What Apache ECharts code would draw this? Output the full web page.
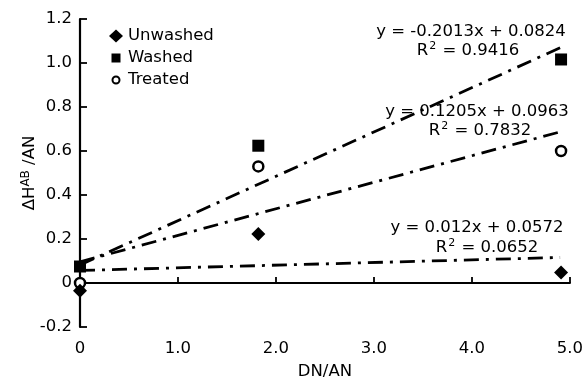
<!DOCTYPE html>
<html><head><meta charset="utf-8">
<script src="https://cdn.jsdelivr.net/npm/echarts@6/dist/echarts.min.js"></script>
<style>html,body{margin:0;padding:0;background:#fff}#c{width:586px;height:385px}</style>
</head><body><div id="c"></div>
<script>
const seriesNames = ['Unwashed', 'Washed', 'Treated'];
const xValues = [0, 1.82, 4.91];
const unwashed = [-0.035, 0.223, 0.048];
const washed = [0.075, 0.624, 1.016];
const treated = [0.0, 0.53, 0.60];
// trendline endpoints (match the printed equations)
const trendX = [0, 4.9];
const trendUnwashed = [0.057, 0.116];
const trendWashed = [0.082, 1.069];
const trendTreated = [0.096, 0.687];
const xTicks = [0, 1, 2, 3, 4, 5];
const yTicks = [-0.2, 0, 0.2, 0.4, 0.6, 0.8, 1.0, 1.2];
const equations = [
  ['y = -0.2013x + 0.0824', '0.9416'],
  ['y = 0.1205x + 0.0963', '0.7832'],
  ['y = 0.012x + 0.0572', '0.0652']
];

const font = '"DejaVu Sans", Verdana, sans-serif';
const FS = 16.5;
const chart = echarts.init(document.getElementById('c'));
const pts = v => xValues.map((x, i) => [x, v[i]]);
const tl = v => trendX.map((x, i) => [x, v[i]]);
const dashDot = [15, 7, 3, 7];
const lineSeries = (d) => ({
  type: 'line', data: tl(d), symbol: 'none', silent: true,
  lineStyle: { color: '#000', width: 2.8, type: dashDot }, z: 1
});
const eqTexts = [];
const eqPos = [[471, 32, 468, 51], [477, 112, 480, 131], [477, 228, 487, 248]];
equations.forEach((e, i) => {
  const p = eqPos[i];
  eqTexts.push({ type: 'text', x: p[0], y: p[1], z: 10, style: { text: e[0], font: FS + 'px ' + font, fill: '#000', align: 'center', verticalAlign: 'middle' } });
  eqTexts.push({ type: 'text', x: p[2], y: p[3], z: 10, style: {
    text: '{n|R}{s|2}{n| = ' + e[1] + '}', align: 'center', verticalAlign: 'middle',
    rich: { n: { fontSize: FS, fontFamily: font, color: '#000' }, s: { fontSize: 11, fontFamily: font, color: '#000', verticalAlign: 'top', padding: [0, 1, 9, 1] } }
  } });
});

chart.setOption({
  animation: false,
  grid: { left: 80, right: 11, top: 19, bottom: 55 },
  xAxis: {
    type: 'value', min: 0, max: 5, interval: 1,
    name: 'DN/AN', nameLocation: 'middle', nameGap: 36,
    nameTextStyle: { fontSize: FS, fontFamily: font, color: '#000' },
    axisLine: { lineStyle: { color: '#000', width: 2.2 } },
    axisTick: { inside: true, length: 6, lineStyle: { color: '#000', width: 1.8 } },
    axisLabel: { fontSize: FS, fontFamily: font, color: '#000', margin: 13,
      formatter: v => v === 0 ? '0' : v.toFixed(1) },
    splitLine: { show: false }
  },
  yAxis: {
    type: 'value', min: -0.2, max: 1.2, interval: 0.2,
    name: '{n|ΔH}{s|AB}{n| /AN}', nameLocation: 'middle', nameGap: 40, nameRotate: 90,
    nameMoveOverlap: false,
    nameTextStyle: { rich: { n: { fontSize: FS, fontFamily: font, color: '#000' }, s: { fontSize: 12, fontFamily: font, color: '#000', verticalAlign: 'top', padding: [0, 0, 8, 0] } } },
    axisLine: { lineStyle: { color: '#000', width: 2.2 } },
    axisTick: { inside: true, length: 7, lineStyle: { color: '#000', width: 1.8 } },
    axisLabel: { fontSize: FS, fontFamily: font, color: '#000', margin: 8,
      formatter: v => Math.abs(v) < 1e-9 ? '0' : v.toFixed(1) },
    splitLine: { show: false }
  },
  legend: {
    left: 103, top: 21, orient: 'vertical', itemGap: 2, itemWidth: 14, itemHeight: 13,
    textStyle: { fontSize: FS, fontFamily: font, color: '#000', lineHeight: 20 },
    data: [
      { name: 'Unwashed', icon: 'path://M7,0.5L13.5,6.5L7,12.5L0.5,6.5Z', itemStyle: { color: '#000' } },
      { name: 'Washed', icon: 'path://M0,0M14,13M2.5,2H11.5V11H2.5Z', itemStyle: { color: '#000' } },
      { name: 'Treated', icon: 'path://M0,0M14,13M10.5,6.5A3.5,3.5 0 1,1 3.5,6.5A3.5,3.5 0 1,1 10.5,6.5Z', itemStyle: { color: '#fff', borderColor: '#000', borderWidth: 2 } }
    ]
  },
  graphic: eqTexts,
  series: [
    lineSeries(trendUnwashed), lineSeries(trendWashed), lineSeries(trendTreated),
    { name: 'Unwashed', type: 'scatter', data: pts(unwashed), symbol: 'diamond', symbolSize: 14, itemStyle: { color: '#000', opacity: 1 }, z: 3 },
    { name: 'Washed', type: 'scatter', data: pts(washed), symbol: 'rect', symbolSize: 12, itemStyle: { color: '#000', opacity: 1 }, z: 3 },
    { name: 'Treated', type: 'scatter', data: pts(treated), symbol: 'circle', symbolSize: 10, itemStyle: { color: '#fff', borderColor: '#000', borderWidth: 2.5, opacity: 1 }, z: 2 }
  ]
});
</script></body></html>
